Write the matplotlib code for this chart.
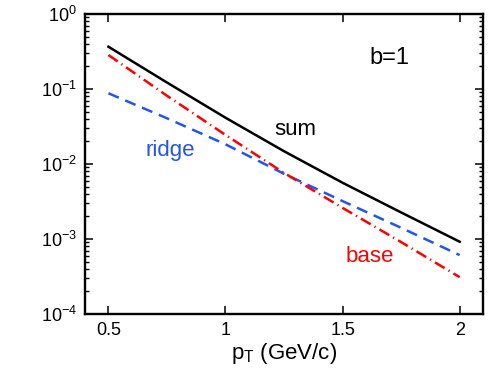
import matplotlib
matplotlib.use('Agg')
from matplotlib import pyplot as plt
from matplotlib.ticker import LogLocator, NullFormatter, FixedLocator

pt = [0.5, 0.75, 1.0, 1.25, 1.5, 1.75, 2.0]
base = [0.284, 0.0813, 0.0244, 0.0076, 0.0026, 0.00091, 0.00031]
ridge = [0.0877, 0.0407, 0.0183, 0.0074, 0.0032, 0.00141, 0.00061]
total = [0.366, 0.122, 0.0414, 0.0148, 0.00562, 0.00226, 0.00092]

xticks = [0.5, 1, 1.5, 2]
xticklabels = ['0.5', '1', '1.5', '2']

plt.rcParams['font.family'] = ['Liberation Sans', 'DejaVu Sans']
plt.rcParams['mathtext.fontset'] = 'custom'
plt.rcParams['mathtext.rm'] = 'Liberation Sans'
plt.rcParams['mathtext.it'] = 'Liberation Sans:italic'

fig = plt.figure(figsize=(4.98, 3.75), dpi=100)
ax = fig.add_axes([0.1707, 0.1627, 0.7993, 0.8])

ax.plot(pt, total, color='black', lw=1.8)
ax.plot(pt, ridge, color='#2255ee', lw=1.8, dashes=(4.5, 2.8))
ax.plot(pt, base, color='#ff0000', lw=1.8, dashes=(4.5, 1.8, 0.5, 1.8))

ax.set_yscale('log')
ax.set_xlim(0.4, 2.1)
ax.set_ylim(1e-4, 1)

ax.xaxis.set_major_locator(FixedLocator(xticks))
ax.set_xticklabels(xticklabels)
ax.yaxis.set_major_locator(LogLocator(base=10, numticks=10))
ax.yaxis.set_minor_locator(LogLocator(base=10, subs=range(2, 10), numticks=10))
ax.yaxis.set_minor_formatter(NullFormatter())

ax.tick_params(which='both', direction='in', top=True, right=True, labelsize=13)
ax.tick_params(which='major', length=6, width=1.1, pad=6)
ax.tick_params(which='minor', length=3, width=1.0)
for s in ax.spines.values():
    s.set_linewidth(1.7)

ax.set_xlabel(r'p$_\mathrm{T}$ (GeV/c)', fontsize=16, labelpad=1)

ax.text(1.30, 0.0244, 'sum', fontsize=16, ha='center', va='baseline')
ax.text(0.765, 0.0128, 'ridge', fontsize=16, ha='center', va='baseline', color='#2255ee')
ax.text(1.615, 4.93e-4, 'base', fontsize=16, ha='center', va='baseline', color='#ff0000')
ax.text(1.70, 0.213, 'b=1', fontsize=17, ha='center', va='baseline')

fig.savefig('out.png', dpi=100)
